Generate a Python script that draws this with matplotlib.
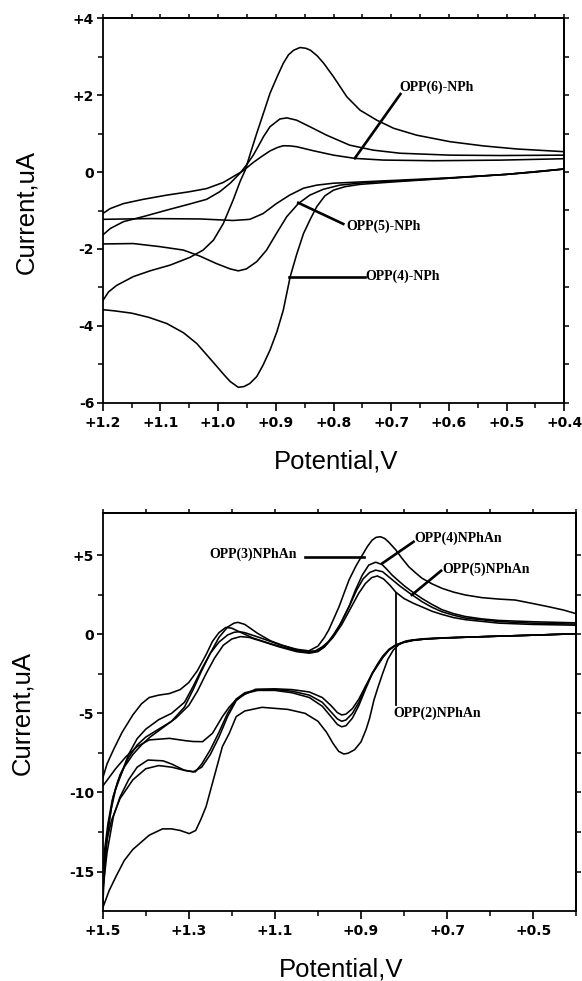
import matplotlib
matplotlib.use("Agg")
import matplotlib.pyplot as plt
from matplotlib.ticker import FixedLocator, FixedFormatter, NullFormatter

# ---------------- DATA ----------------
# Top panel: (potential V, current uA) along each scan branch
opp4_fwd = [(0.400, 0.08), (0.450, 0.00), (0.500, -0.06), (0.550, -0.11), (0.600, -0.16), (0.650, -0.21),
            (0.700, -0.26), (0.754, -0.32), (0.780, -0.38), (0.800, -0.47), (0.815, -0.62), (0.829, -0.90),
            (0.840, -1.22), (0.852, -1.60), (0.864, -2.15), (0.875, -2.72), (0.887, -3.59), (0.898, -4.15),
            (0.910, -4.63), (0.922, -5.02), (0.933, -5.32), (0.945, -5.50), (0.955, -5.58), (0.965, -5.60),
            (0.979, -5.45), (0.990, -5.27), (1.002, -5.06), (1.020, -4.75), (1.037, -4.46), (1.060, -4.18),
            (1.089, -3.94), (1.120, -3.78), (1.150, -3.67), (1.180, -3.61), (1.200, -3.58)]
opp4_rev = [(1.200, -3.35), (1.190, -3.12), (1.176, -2.95), (1.147, -2.72), (1.118, -2.57), (1.083, -2.42),
            (1.049, -2.22), (1.026, -2.03), (1.008, -1.77), (0.991, -1.34), (0.974, -0.73), (0.962, -0.25),
            (0.953, 0.05), (0.944, 0.49), (0.933, 1.01), (0.921, 1.55), (0.910, 2.05), (0.898, 2.47),
            (0.887, 2.83), (0.878, 3.05), (0.869, 3.17), (0.858, 3.24), (0.848, 3.22), (0.840, 3.17),
            (0.828, 3.02), (0.817, 2.83), (0.800, 2.48), (0.777, 1.96), (0.754, 1.61), (0.725, 1.35),
            (0.696, 1.14), (0.656, 0.96), (0.598, 0.79), (0.540, 0.68), (0.482, 0.60), (0.400, 0.53)]
opp5_fwd = [(0.400, 0.08), (0.500, -0.06), (0.600, -0.16), (0.700, -0.24), (0.743, -0.27), (0.789, -0.34),
            (0.818, -0.45), (0.841, -0.60), (0.861, -0.82), (0.881, -1.16), (0.899, -1.60), (0.916, -2.03),
            (0.933, -2.33), (0.951, -2.52), (0.965, -2.57), (0.979, -2.52), (1.003, -2.38), (1.031, -2.19),
            (1.060, -2.03), (1.101, -1.94), (1.147, -1.86), (1.200, -1.87)]
opp5_rev = [(1.200, -1.64), (1.187, -1.47), (1.164, -1.29), (1.130, -1.16), (1.089, -0.99), (1.049, -0.83),
            (1.020, -0.71), (0.997, -0.51), (0.979, -0.29), (0.962, -0.03), (0.951, 0.18), (0.939, 0.44),
            (0.930, 0.68), (0.921, 0.93), (0.910, 1.18), (0.893, 1.38), (0.881, 1.41), (0.864, 1.35),
            (0.841, 1.18), (0.812, 0.96), (0.772, 0.70), (0.731, 0.57), (0.685, 0.49), (0.598, 0.44),
            (0.511, 0.43), (0.400, 0.44)]
opp6_fwd = [(0.400, 0.08), (0.500, -0.06), (0.600, -0.15), (0.685, -0.21), (0.743, -0.25), (0.800, -0.29),
            (0.829, -0.34), (0.852, -0.42), (0.876, -0.60), (0.899, -0.82), (0.922, -1.08), (0.945, -1.23),
            (0.974, -1.26), (1.031, -1.22), (1.118, -1.21), (1.200, -1.23)]
opp6_rev = [(1.200, -1.08), (1.187, -0.95), (1.164, -0.82), (1.130, -0.71), (1.089, -0.60), (1.049, -0.51),
            (1.020, -0.43), (0.991, -0.27), (0.974, -0.12), (0.957, 0.03), (0.939, 0.25), (0.925, 0.40),
            (0.910, 0.55), (0.897, 0.64), (0.887, 0.685), (0.875, 0.68), (0.864, 0.66), (0.835, 0.555),
            (0.800, 0.44), (0.763, 0.356), (0.714, 0.312), (0.627, 0.295), (0.512, 0.31), (0.400, 0.347)]

# Bottom panel
an3_fwd = [(0.40, 0.03), (0.50, -0.06), (0.60, -0.14), (0.70, -0.22), (0.75, -0.28), (0.77, -0.33),
           (0.79, -0.40), (0.80, -0.47), (0.812, -0.65), (0.825, -1.00), (0.838, -1.60), (0.850, -2.50),
           (0.860, -3.30), (0.870, -4.16), (0.880, -5.30), (0.888, -6.00), (0.900, -6.80), (0.915, -7.30),
           (0.930, -7.52), (0.940, -7.57), (0.952, -7.40), (0.965, -6.90), (0.980, -6.20), (1.000, -5.50),
           (1.030, -5.00), (1.070, -4.75), (1.130, -4.62), (1.170, -4.85), (1.190, -5.21), (1.206, -6.26),
           (1.222, -7.10), (1.237, -8.60), (1.245, -9.40), (1.260, -10.9), (1.272, -11.7), (1.284, -12.4),
           (1.299, -12.6), (1.320, -12.4), (1.340, -12.3), (1.361, -12.3), (1.392, -12.7), (1.430, -13.6),
           (1.450, -14.3), (1.469, -15.3), (1.485, -16.2), (1.500, -17.3)]
an3_rev = [(1.500, -17.3), (1.497, -15.5), (1.492, -13.5), (1.485, -11.8), (1.475, -10.2), (1.460, -8.9),
           (1.440, -7.8), (1.420, -7.0), (1.400, -6.5), (1.370, -6.0), (1.340, -5.5), (1.310, -4.6),
           (1.290, -3.5), (1.270, -2.3), (1.250, -1.2), (1.230, -0.2), (1.210, 0.45), (1.195, 0.70),
           (1.186, 0.75), (1.170, 0.62), (1.140, 0.05), (1.110, -0.42), (1.083, -0.70), (1.050, -0.95),
           (1.021, -1.05), (1.000, -0.75), (0.985, -0.20), (0.975, 0.27), (0.963, 1.00), (0.951, 1.74),
           (0.940, 2.55), (0.928, 3.42), (0.912, 4.30), (0.897, 5.00), (0.885, 5.55), (0.874, 5.95),
           (0.865, 6.12), (0.855, 6.16), (0.845, 6.05), (0.835, 5.80), (0.819, 5.32), (0.805, 4.80),
           (0.789, 4.26), (0.770, 3.80), (0.758, 3.53), (0.735, 3.18), (0.712, 2.90), (0.685, 2.66),
           (0.658, 2.48), (0.619, 2.31), (0.580, 2.22), (0.542, 2.16), (0.503, 1.95), (0.465, 1.74),
           (0.430, 1.53), (0.403, 1.32)]
an4_fwd = [(0.40, 0.03), (0.50, -0.06), (0.60, -0.14), (0.70, -0.23), (0.75, -0.30), (0.78, -0.38),
           (0.80, -0.48), (0.82, -0.68), (0.835, -0.95), (0.850, -1.40), (0.862, -1.90), (0.874, -2.50),
           (0.890, -3.50), (0.905, -4.50), (0.920, -5.30), (0.935, -5.78), (0.945, -5.85), (0.955, -5.70),
           (0.970, -5.20), (0.990, -4.55), (1.020, -4.00), (1.060, -3.70), (1.100, -3.55), (1.140, -3.55),
           (1.170, -3.75), (1.190, -4.20), (1.210, -5.20), (1.230, -6.50), (1.250, -7.60), (1.270, -8.40),
           (1.290, -8.70), (1.310, -8.60), (1.340, -8.20), (1.360, -8.00), (1.395, -7.95), (1.420, -8.40),
           (1.440, -9.20), (1.460, -10.3), (1.475, -11.5), (1.490, -13.8), (1.500, -16.3)]
an4_rev = [(1.500, -16.3), (1.496, -14.5), (1.490, -12.8), (1.480, -11.0), (1.470, -9.8), (1.455, -8.7),
           (1.440, -7.6), (1.420, -6.6), (1.400, -6.0), (1.370, -5.4), (1.340, -5.0), (1.310, -4.3),
           (1.290, -3.3), (1.270, -2.2), (1.250, -1.2), (1.230, -0.5), (1.210, -0.05), (1.195, 0.12),
           (1.183, 0.16), (1.170, 0.10), (1.137, -0.20), (1.100, -0.55), (1.060, -0.90), (1.030, -1.10),
           (1.006, -1.05), (0.990, -0.80), (0.975, -0.45), (0.963, 0.00), (0.951, 0.47), (0.940, 1.10),
           (0.928, 1.74), (0.913, 2.79), (0.897, 3.74), (0.882, 4.37), (0.866, 4.55), (0.851, 4.40),
           (0.840, 4.10), (0.828, 3.74), (0.812, 3.35), (0.797, 3.00), (0.778, 2.62), (0.758, 2.25),
           (0.735, 1.88), (0.712, 1.55), (0.685, 1.30), (0.658, 1.12), (0.620, 0.97), (0.580, 0.87),
           (0.503, 0.79), (0.403, 0.72)]
an5_fwd = [(0.40, 0.03), (0.50, -0.06), (0.60, -0.14), (0.70, -0.23), (0.75, -0.30), (0.78, -0.38),
           (0.80, -0.50), (0.82, -0.70), (0.835, -0.98), (0.850, -1.45), (0.862, -1.95), (0.874, -2.45),
           (0.890, -3.40), (0.905, -4.30), (0.920, -5.00), (0.935, -5.42), (0.945, -5.50), (0.955, -5.35),
           (0.970, -4.90), (0.990, -4.30), (1.020, -3.85), (1.060, -3.60), (1.100, -3.50), (1.140, -3.50),
           (1.170, -3.70), (1.190, -4.10), (1.210, -5.00), (1.230, -6.20), (1.250, -7.30), (1.270, -8.20),
           (1.285, -8.70), (1.310, -8.60), (1.340, -8.40), (1.370, -8.30), (1.400, -8.50), (1.430, -9.20),
           (1.460, -10.4), (1.480, -11.8), (1.490, -13.0), (1.500, -15.3)]
an5_rev = [(1.500, -15.3), (1.495, -13.5), (1.488, -12.0), (1.478, -10.5), (1.465, -9.3), (1.450, -8.4),
           (1.430, -7.6), (1.410, -7.0), (1.390, -6.5), (1.360, -5.9), (1.330, -5.3), (1.300, -4.5),
           (1.280, -3.6), (1.260, -2.5), (1.240, -1.5), (1.220, -0.7), (1.200, -0.3), (1.180, -0.15),
           (1.160, -0.20), (1.130, -0.45), (1.090, -0.80), (1.050, -1.10), (1.020, -1.20), (1.000, -1.10),
           (0.985, -0.80), (0.965, -0.10), (0.945, 0.80), (0.925, 1.90), (0.910, 2.80), (0.895, 3.50),
           (0.880, 3.90), (0.866, 4.05), (0.850, 3.95), (0.830, 3.50), (0.810, 3.05), (0.790, 2.65),
           (0.758, 2.05), (0.735, 1.70), (0.712, 1.42), (0.685, 1.20), (0.658, 1.02), (0.580, 0.80),
           (0.503, 0.70), (0.403, 0.64)]
an2_fwd = [(0.40, 0.03), (0.50, -0.06), (0.60, -0.14), (0.70, -0.23), (0.75, -0.30), (0.78, -0.40),
           (0.80, -0.52), (0.82, -0.72), (0.835, -1.00), (0.850, -1.50), (0.862, -2.00), (0.874, -2.50),
           (0.890, -3.30), (0.905, -4.10), (0.920, -4.70), (0.935, -5.05), (0.945, -5.10), (0.955, -4.95),
           (0.970, -4.50), (0.990, -4.00), (1.020, -3.65), (1.060, -3.50), (1.100, -3.45), (1.145, -3.48),
           (1.170, -3.80), (1.191, -4.16), (1.206, -4.60), (1.222, -5.21), (1.245, -6.26), (1.268, -6.79),
           (1.290, -6.78), (1.307, -6.73), (1.345, -6.58), (1.392, -6.68), (1.420, -7.10), (1.446, -7.74),
           (1.470, -8.50), (1.500, -9.60)]
an2_rev = [(1.500, -9.10), (1.490, -8.20), (1.475, -7.30), (1.455, -6.20), (1.430, -5.10), (1.410, -4.40),
           (1.392, -4.00), (1.370, -3.85), (1.345, -3.75), (1.320, -3.50), (1.300, -3.05), (1.280, -2.30),
           (1.260, -1.30), (1.245, -0.45), (1.230, 0.10), (1.214, 0.43), (1.200, 0.38), (1.180, 0.12),
           (1.150, -0.25), (1.110, -0.60), (1.070, -0.90), (1.040, -1.10), (1.020, -1.15), (1.000, -1.05),
           (0.985, -0.80), (0.965, -0.20), (0.945, 0.60), (0.925, 1.60), (0.905, 2.60), (0.890, 3.20),
           (0.875, 3.58), (0.862, 3.68), (0.848, 3.50), (0.833, 3.10), (0.819, 2.65), (0.800, 2.25),
           (0.778, 1.95), (0.758, 1.72), (0.735, 1.45), (0.712, 1.25), (0.685, 1.05), (0.658, 0.92),
           (0.580, 0.70), (0.503, 0.62), (0.403, 0.57)]

top_branches = [opp4_fwd, opp4_rev, opp5_fwd, opp5_rev, opp6_fwd, opp6_rev]
bot_branches = [an3_fwd, an3_rev, an4_fwd, an4_rev, an5_fwd, an5_rev, an2_fwd, an2_rev]

top_xticks = [1.2, 1.1, 1.0, 0.9, 0.8, 0.7, 0.6, 0.5, 0.4]
top_xlabels = ['+1.2', '+1.1', '+1.0', '+0.9', '+0.8', '+0.7', '+0.6', '+0.5', '+0.4']
top_yticks = [4, 2, 0, -2, -4, -6]
top_ylabels = ['+4', '+2', '0', '-2', '-4', '-6']
bot_xticks = [1.5, 1.3, 1.1, 0.9, 0.7, 0.5]
bot_xlabels = ['+1.5', '+1.3', '+1.1', '+0.9', '+0.7', '+0.5']
bot_yticks = [5, 0, -5, -10, -15]
bot_ylabels = ['+5', '0', '-5', '-10', '-15']

# annotations: (text, text V, text I, line start, line end)
top_notes = [('OPP(6)-NPh', 0.686, 2.20, (0.684, 2.03), (0.763, 0.36)),
             ('OPP(5)-NPh', 0.778, -1.40, (0.783, -1.35), (0.861, -0.80)),
             ('OPP(4)-NPh', 0.744, -2.72, (0.746, -2.72), (0.877, -2.72))]
bot_notes = [('OPP(3)NPhAn', 1.253, 5.05, (1.029, 4.90), (0.894, 4.90)),
             ('OPP(4)NPhAn', 0.776, 6.05, (0.778, 5.84), (0.851, 4.47)),
             ('OPP(5)NPhAn', 0.712, 4.10, (0.714, 4.01), (0.782, 2.48)),
             ('OPP(2)NPhAn', 0.826, -5.02, (0.819, 2.58), (0.819, -4.50))]

# ---------------- FIGURE ----------------
W, H = 582, 981
fig = plt.figure(figsize=(W / 100, H / 100), dpi=100)

tickfont = dict(family='DejaVu Sans', weight='bold', size=10)
labfont = dict(family='Liberation Sans', size=18.5)
notefont = dict(family='Liberation Serif', weight='bold', size=10)


def frame(ax, xlim, ylim, xt, xl, xminor, xtop, yt, yl, yminor, yright):
    ax.set_xlim(*xlim)
    ax.set_ylim(*ylim)
    for s in ax.spines.values():
        s.set_linewidth(1.3)
    ax.xaxis.set_major_locator(FixedLocator(xt))
    ax.xaxis.set_major_formatter(FixedFormatter(xl))
    ax.xaxis.set_minor_locator(FixedLocator(xminor))
    ax.yaxis.set_major_locator(FixedLocator(yt))
    ax.yaxis.set_major_formatter(FixedFormatter(yl))
    ax.yaxis.set_minor_locator(FixedLocator(yminor))
    ax.xaxis.set_minor_formatter(NullFormatter())
    ax.yaxis.set_minor_formatter(NullFormatter())
    ax.tick_params(axis='x', which='major', direction='out', length=6, width=1.2, pad=3.3)
    ax.tick_params(axis='x', which='minor', direction='out', length=3.6, width=1.1)
    ax.tick_params(axis='y', which='major', direction='out', length=4.3, width=1.2, pad=1.8)
    ax.tick_params(axis='y', which='minor', direction='out', length=3.4, width=1.1)
    for lab in ax.get_xticklabels() + ax.get_yticklabels():
        lab.set_fontfamily(tickfont['family'])
        lab.set_fontweight(tickfont['weight'])
        lab.set_fontsize(tickfont['size'])
    sx = ax.secondary_xaxis('top')
    sx.set_xticks(xtop)
    sx.tick_params(direction='out', length=3.2, width=1.1, labeltop=False)
    sx.xaxis.set_major_formatter(NullFormatter())
    sx.spines['top'].set_linewidth(1.3)
    sy = ax.secondary_yaxis('right')
    sy.set_yticks(yright)
    sy.tick_params(direction='out', length=3.6, width=1.1, labelright=False)
    sy.yaxis.set_major_formatter(NullFormatter())
    sy.spines['right'].set_linewidth(1.3)


# Top panel
ax1 = fig.add_axes([102.7 / W, 1 - 402.7 / H, 461.6 / W, 384.4 / H])
for br in top_branches:
    ax1.plot([p[0] for p in br], [p[1] for p in br], color='black', lw=1.15)
frame(ax1, (1.2, 0.4), (-6, 4), top_xticks, top_xlabels,
      [1.15, 1.05, 0.95, 0.85, 0.75, 0.65, 0.55, 0.45],
      [1.2 - 0.05 * k for k in range(17)],
      top_yticks, top_ylabels, [3, 1, -1, -3, -5],
      [4, 3, 2, 1, 0, -1, -2, -3, -4, -5, -6])
for txt, tv, ti, a, b in top_notes:
    ax1.plot([a[0], b[0]], [a[1], b[1]], color='black', lw=1.9)
    ax1.text(tv, ti, txt, ha='left', va='center', **notefont)

# Bottom panel
ax2 = fig.add_axes([102.7 / W, 1 - 910.7 / H, 473.6 / W, 397.4 / H])
for br in bot_branches:
    ax2.plot([p[0] for p in br], [p[1] for p in br], color='black', lw=1.15)
frame(ax2, (1.5, 0.4), (-17.47, 7.64), bot_xticks, bot_xlabels,
      [1.4, 1.2, 1.0, 0.8, 0.6, 0.4],
      [1.5 - 0.1 * k for k in range(12)],
      bot_yticks, bot_ylabels, [2.5, -2.5, -7.5, -12.5],
      [5, 2.5, 0, -2.5, -5, -7.5, -10, -12.5, -15])
for txt, tv, ti, a, b in bot_notes:
    ax2.plot([a[0], b[0]], [a[1], b[1]], color='black', lw=1.9 if a[0] != b[0] else 1.3)
    ax2.text(tv, ti, txt, ha='left', va='center', **notefont)

# Axis titles
fig.text(33 / W, 1 - 212 / H, 'Current,uA', rotation=90, rotation_mode='anchor',
         ha='center', va='baseline', **labfont)
fig.text(29 / W, 1 - 713 / H, 'Current,uA', rotation=90, rotation_mode='anchor',
         ha='center', va='baseline', **labfont)
fig.text(336 / W, 1 - 468 / H, 'Potential,V', ha='center', va='baseline', **labfont)
fig.text(341.5 / W, 1 - 977 / H, 'Potential,V', ha='center', va='baseline', **labfont)

fig.savefig('out.png', dpi=100)
